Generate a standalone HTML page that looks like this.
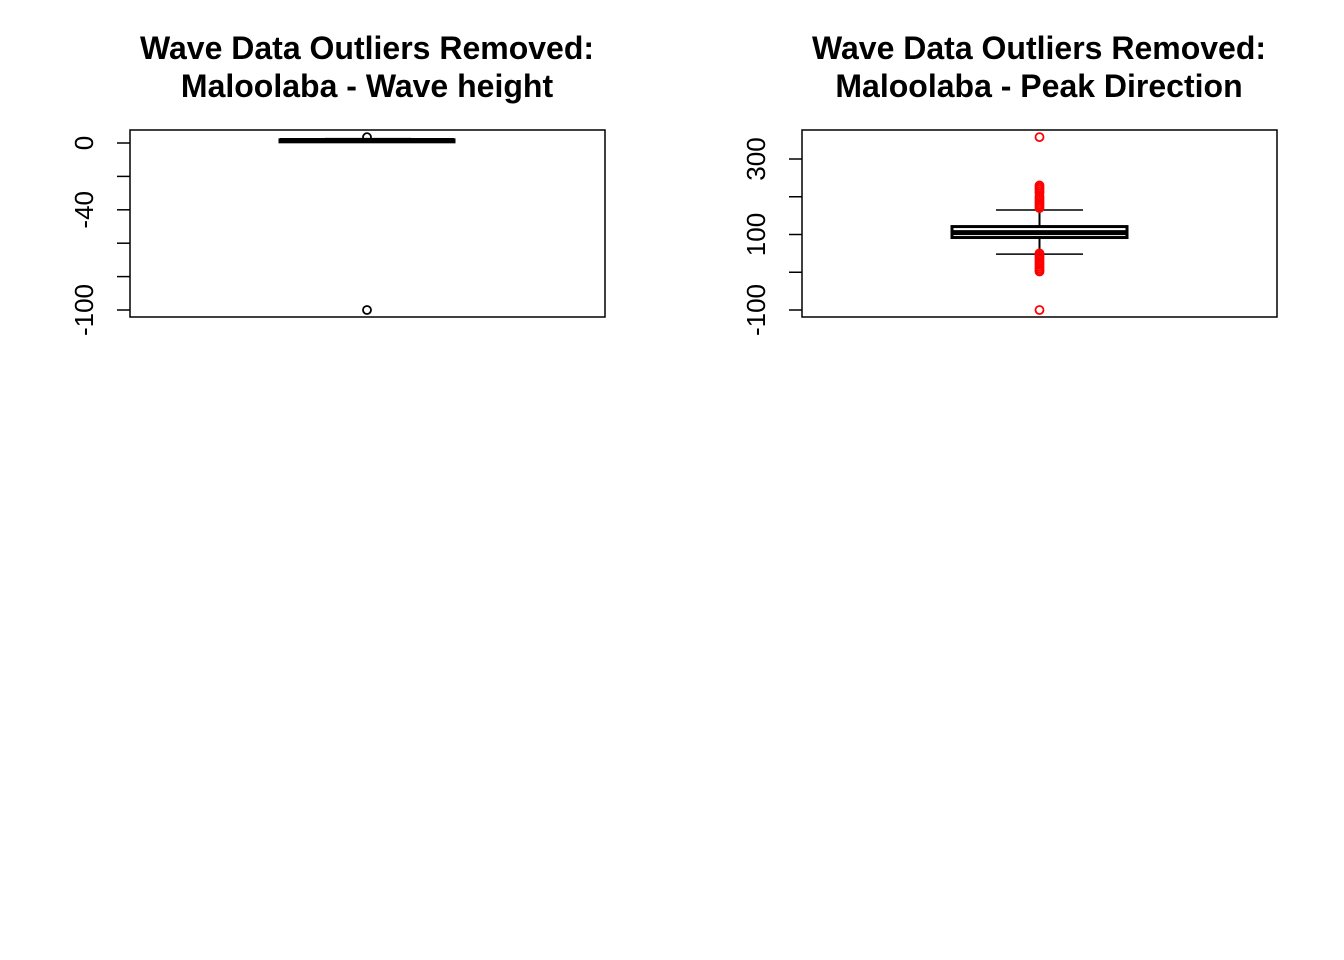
<!DOCTYPE html>
<html><head><meta charset="utf-8"><style>
body{margin:0;background:#fff}
svg{display:block;font-family:"Liberation Sans",Arial,sans-serif}
</style></head><body>
<svg id="c" width="1344" height="960">
<text x="367" y="59" text-anchor="middle" font-size="32" font-weight="bold">Wave Data Outliers Removed:</text>
<text x="367" y="97" text-anchor="middle" font-size="32" font-weight="bold">Maloolaba - Wave height</text>
<text x="1039" y="59" text-anchor="middle" font-size="32" font-weight="bold">Wave Data Outliers Removed:</text>
<text x="1039" y="97" text-anchor="middle" font-size="32" font-weight="bold">Maloolaba - Peak Direction</text>
</svg>
<script>
// Left panel: wave height
const hTicks=[0,-20,-40,-60,-80,-100];
const hLabels=["0","","-40","","","-100"];
const hStats=[0.8,1.2,1.5,1.9,2.6]; // lower whisker, q1, median, q3, upper whisker
const hOutliers=[3.5,-100];
// Right panel: peak direction
const dTicks=[300,200,100,0,-100];
const dLabels=["300","","100","","-100"];
const dStats=[48,92,105,121,165];
const dOutliers=[358,230,225,220,215,210,200,195,190,185,180,175,170,50,45,40,35,30,25,20,15,10,5,2,-100];

const svg=document.getElementById('c');
const NS="http://www.w3.org/2000/svg";
function mk(t,a){const e=document.createElementNS(NS,t);for(const k in a)e.setAttribute(k,a[k]);svg.appendChild(e);return e;}

function panel(p,ticks,labels,stats,outs,v0,y0,v1,y1,ocol,prefix){
  const y=v=>y0+(v-v0)*(y1-y0)/(v1-v0);
  const f=mk('rect',{x:p.x0,y:130,width:p.x1-p.x0,height:187,fill:'none',stroke:'#000','stroke-width':1.5});
  
  
  ticks.forEach((t,i)=>{
    const ln=mk('line',{x1:p.x0-13,x2:p.x0,y1:y(t),y2:y(t),stroke:'#000','stroke-width':1.5});
    
    
    if(labels[i]){
      const tx=mk('text',{x:0,y:0,'font-size':26,'text-anchor':'middle',transform:`translate(${p.x0-37},${y(t)}) rotate(-90)`});
      tx.textContent=labels[i];
      
      
    }
  });
  const cx=(p.bx0+p.bx1)/2;
  const b=mk('rect',{x:p.bx0,y:y(stats[3]),width:p.bx1-p.bx0,height:Math.max(2,y(stats[1])-y(stats[3])),fill:'none',stroke:'#000','stroke-width':3});
  
  
  const m=mk('line',{x1:p.bx0,x2:p.bx1,y1:y(stats[2]),y2:y(stats[2]),stroke:'#000','stroke-width':5});
  
  
  [[stats[0],stats[1]],[stats[3],stats[4]]].forEach(([a,c])=>{
    const w=mk('line',{x1:cx,x2:cx,y1:y(a),y2:y(c),stroke:'#000','stroke-width':2});
    
    
  });
  [stats[0],stats[4]].forEach(v=>{
    const c=mk('line',{x1:p.cx0,x2:p.cx1,y1:y(v),y2:y(v),stroke:'#000','stroke-width':1.5});
    
    
  });
  outs.forEach(v=>{
    const o=mk('circle',{cx:cx,cy:y(v),r:4,fill:'none',stroke:ocol,'stroke-width':1.8});
    
    
  });
}
panel({x0:130,x1:605,bx0:280,bx1:454,cx0:325,cx1:411},hTicks,hLabels,hStats,hOutliers,0,143,-100,310,'#000','height');
panel({x0:802,x1:1277,bx0:952,bx1:1127,cx0:996,cx1:1083},dTicks,dLabels,dStats,dOutliers,300,159,-100,310,'#ff0000','direction');
</script>
</body></html>
